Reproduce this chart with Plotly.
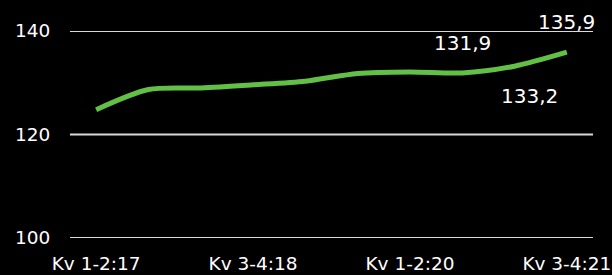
import plotly.graph_objects as go

categories = ["Kv 1-2:17", "Kv 3-4:17", "Kv 1-2:18", "Kv 3-4:18", "Kv 1-2:19",
              "Kv 3-4:19", "Kv 1-2:20", "Kv 3-4:20", "Kv 1-2:21", "Kv 3-4:21"]
values = [124.8, 128.7, 129.0, 129.6, 130.3, 131.8, 132.1, 131.9, 133.2, 135.9]
tick_labels = ["Kv 1-2:17", "Kv 3-4:18", "Kv 1-2:20", "Kv 3-4:21"]
y_ticks = [100, 120, 140]
label_idx = [7, 8, 9]
label_text = ["131,9", "133,2", "135,9"]
label_dy = [30, -30, 30]
label_dx = [0, 15, 0]

FONT = "DejaVu Sans"
fig = go.Figure()
fig.add_trace(go.Scatter(
    x=list(range(len(categories))), y=values, mode="lines",
    line=dict(color="#62C046", width=5, shape="spline", smoothing=0.8),
    hoverinfo="skip", cliponaxis=False))

for yt in y_ticks:
    fig.add_shape(type="line", xref="paper", yref="y", x0=0, x1=1, y0=yt, y1=yt,
                  line=dict(color="#d9d9d9", width=2), layer="below")

for i, t, dy, dx in zip(label_idx, label_text, label_dy, label_dx):
    fig.add_annotation(x=i, y=values[i], text=t, showarrow=False,
                       xref="x", yref="y", yshift=dy, xshift=dx,
                       font=dict(family=FONT, size=20, color="white"))

fig.update_layout(
    width=612, height=275, paper_bgcolor="black", plot_bgcolor="black",
    margin=dict(l=70, r=19, t=31, b=37), showlegend=False,
    font=dict(family=FONT, size=18.5, color="white"),
    xaxis=dict(range=[-0.5, 9.5], tickmode="array",
               tickvals=[categories.index(c) for c in tick_labels], ticktext=tick_labels,
               showgrid=False, zeroline=False, showline=False, ticks="outside",
               ticklen=9, tickcolor="black", automargin=False),
    yaxis=dict(range=[100, 140], tickvals=y_ticks, showgrid=False,
               zeroline=False, showline=False, ticks="outside",
               ticklen=15, tickcolor="black", automargin=False),
)
fig.write_html("out.html", config={"displayModeBar": False, "staticPlot": True},
               post_script="document.body.style.margin='0';document.body.style.background='black';")
